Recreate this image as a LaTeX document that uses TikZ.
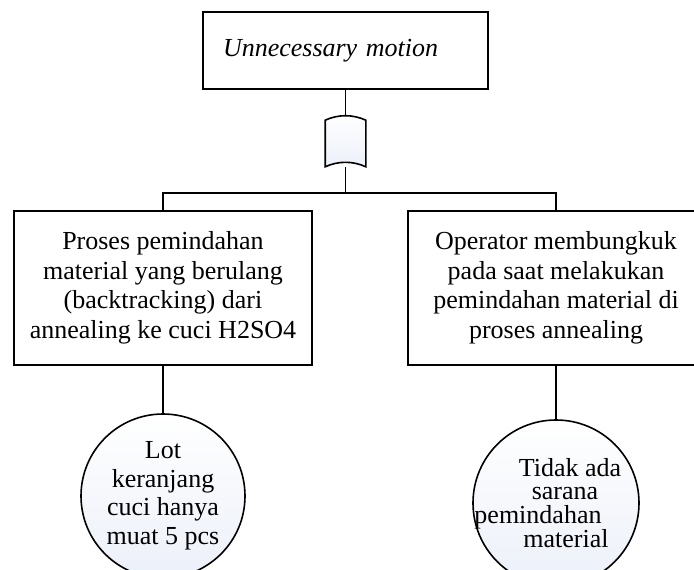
\documentclass[tikz,border=0pt]{standalone}
\usepackage{fontspec}
\setmainfont{Liberation Serif}
\usepackage{xcolor}
\usepackage{tikz}
\usetikzlibrary{shapes,positioning}

\definecolor{gatefill}{RGB}{236,240,249}

\begin{document}
\begin{tikzpicture}[x=1pt, y=-1pt, line width=1.6pt, inner sep=2pt,
  event/.style={draw, rectangle, align=center, font=\fontsize{26}{29.5}\selectfont},
  basic/.style={draw, circle, inner sep=0pt, align=center, top color=white, bottom color=gatefill},
  orgate/.style={rectangle, minimum width=39pt, minimum height=45pt, inner sep=0pt}]
\useasboundingbox (0,0) rectangle (694,570);
\clip (0,0) rectangle (694,570);

\node [event, minimum width=285pt, minimum height=77pt, text width=245pt, align=left, font=\fontsize{26}{29.5}\selectfont\itshape] (top) at (345.5,50.5) {Unnecessary motion};
\node [orgate] (or) at (345.5,143.5) {};
\coordinate (bar) at (345.5,193);
\node [event, minimum width=298pt, minimum height=154pt] (m1) at (163,288) {Proses pemindahan\\material yang berulang\\(backtracking) dari\\annealing ke cuci H2SO4};
\node [event, minimum width=296pt, minimum height=154pt] (m2) at (556,288) {Operator membungkuk\\pada saat melakukan\\pemindahan material di\\proses annealing};
\node [basic, minimum size=164pt, font=\fontsize{26}{28.5}\selectfont] (b1) at (163,496) {Lot\\keranjang\\cuci hanya\\muat 5 pcs};
\node [basic, minimum size=166pt, font=\fontsize{26}{23.5}\selectfont] (b2) at (556,503) {\hspace*{28pt}Tidak ada\\\hspace*{18pt}sarana\\\hspace*{-36pt}pemindahan\\\hspace*{20pt}material};

\draw (top.south) -- (or.north);
\draw (or.south) -- (bar);
\draw (m1.north) |- (bar) -| (m2.north);
\draw (m1.south) -- (b1.north);
\draw (m2.south) -- (b2.north);

% or gate
\draw [top color=white, bottom color=gatefill] (or.north west) .. controls +(13,-6) and +(-13,-6) .. (or.north east) -- (or.south east) .. controls +(-13,-6) and +(13,-6) .. (or.south west) -- cycle;

\end{tikzpicture}
\end{document}
